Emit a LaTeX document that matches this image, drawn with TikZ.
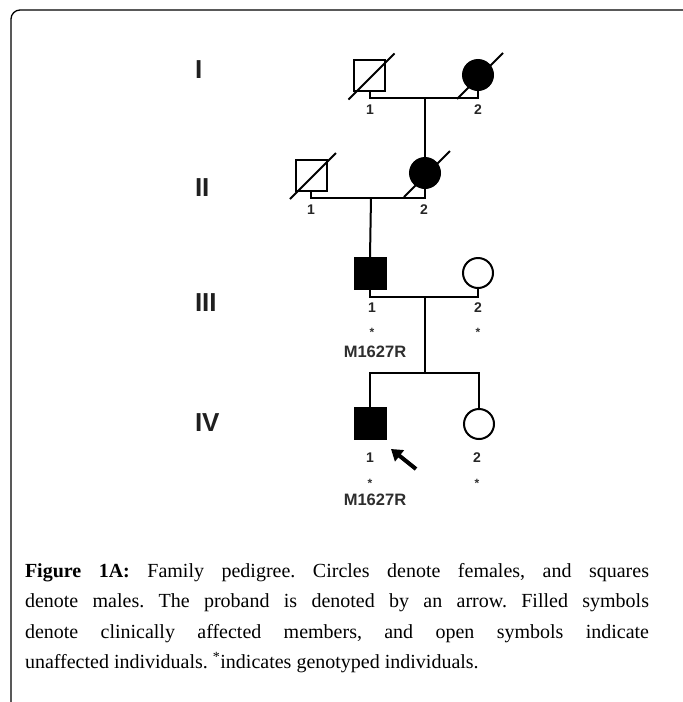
\documentclass[tikz,border=0pt]{standalone}
\usepackage{fontspec}
\setmainfont{Liberation Serif}
\newfontfamily\pedfont{Liberation Sans}
\usetikzlibrary{arrows.meta}
\begin{document}
\frenchspacing
\begin{tikzpicture}[x=1pt,y=-1pt,
  line width=2pt,
  male/.style={draw, rectangle, minimum size=31pt, inner sep=0pt, line width=2pt},
  female/.style={draw, circle, minimum size=30pt, inner sep=0pt, line width=2pt},
  affected/.style={fill=black},
  gen/.style={font=\pedfont\bfseries\fontsize{26}{26}\selectfont, anchor=west, inner sep=0pt, text=black!88},
  num/.style={font=\pedfont\bfseries\fontsize{14}{14}\selectfont, inner sep=0pt, text=black!85},
  star/.style={font=\pedfont\bfseries\fontsize{12}{12}\selectfont, inner sep=0pt, text=black!80},
  mut/.style={font=\pedfont\bfseries\fontsize{16.5}{16.5}\selectfont, inner sep=0pt, text=black!82},
  link/.style={line width=2pt},
  deceased/.style={line width=2pt}
]
\fill[white] (0,0) rectangle (683,702);
\useasboundingbox (0,0) rectangle (683,702);
% frame
\draw[line width=1.3pt, rounded corners=9pt] (11,702) -- (11,10) -- (683,10);

% generation labels
\node[gen] (gI) at (194,70) {I};
\node[gen] (gII) at (194,188) {II};
\node[gen] (gIII) at (194,303) {III};
\node[gen] (gIV) at (194,423) {IV};

% individuals
\node[male] (I1) at (369.5,75.5) {};
\node[female, affected] (I2) at (478,75) {};
\node[male] (II1) at (311,175) {};
\node[female, affected] (II2) at (425,173) {};
\node[male, affected] (III1) at (370,273.5) {};
\node[female] (III2) at (478,273) {};
\node[male, affected] (IV1) at (370,423.5) {};
\node[female] (IV2) at (479,424) {};

% deceased marks
\foreach \p in {I1,I2,II1,II2}{
  \draw[deceased] ([shift={(-21,24)}]\p.center) -- ([shift={(25,-22)}]\p.center);
}

% couple / descent coordinates
\coordinate (m1) at (425,98);
\coordinate (m2) at (371,198);
\coordinate (m3) at (425,297);
\coordinate (s4) at (425,373);

\draw[link] (I1.south) |- (m1) -| (I2.south);
\draw[link] (m1) -- (II2.north);
\draw[link] (II1.south) |- (m2) -| (II2.south);
\draw[link] (m2) -- (III1.north);
\draw[link] (III1.south) |- (m3) -| (III2.south);
\draw[link] (m3) -- (s4);
\draw[link] (IV1.north) |- (s4) -| (IV2.north);

% numbers
\node[num] (nI1) at (370,110) {1};
\node[num] (nI2) at (478,110) {2};
\node[num] (nII1) at (311,210) {1};
\node[num] (nII2) at (424,210) {2};
\node[num] (nIII1) at (372,308) {1};
\node[num] (nIII2) at (478,308) {2};
\node[num] (nIV1) at (370,458) {1};
\node[num] (nIV2) at (477,458) {2};

% genotyped marks
\node[star] (aIII1) at (372,332) {*};
\node[star] (aIII2) at (478,332) {*};
\node[star] (aIV1) at (370,483) {*};
\node[star] (aIV2) at (477,483) {*};

\node[mut] (mIII1) at (375,352) {M1627R};
\node[mut] (mIV1) at (375,500) {M1627R};

% proband arrow
\coordinate (pa) at (416,469);
\coordinate (pb) at (391,449);
\draw[line width=4pt, -{Triangle[length=11pt,width=14pt]}] (pa) -- (pb);

% caption
\node[anchor=north west, text width=624pt, inner sep=0pt, align=justify,
      font=\fontsize{20}{30.5}\selectfont] (cap) at (24,562)
 {\textbf{Figure 1A:} Family pedigree. Circles denote females, and squares\linebreak
  denote males. The proband is denoted by an arrow. Filled symbols\linebreak
  denote clinically affected members, and open symbols indicate\linebreak
  unaffected individuals. \textsuperscript{*}indicates genotyped individuals.};
\end{tikzpicture}
\end{document}
